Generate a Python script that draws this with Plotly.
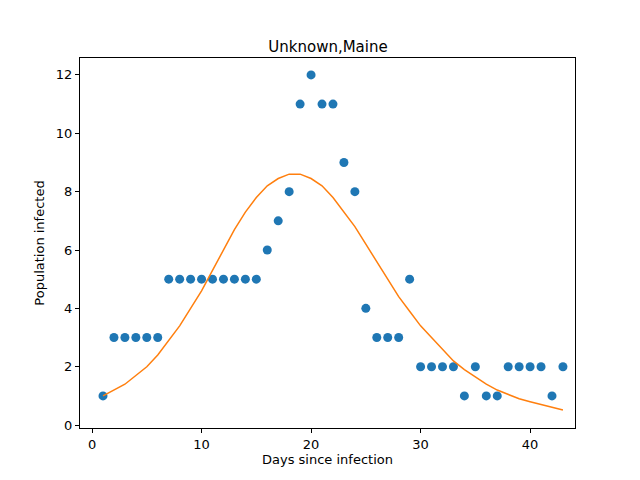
import plotly.graph_objects as go

days = list(range(1, 44))
infected = [1,3,3,3,3,3,5,5,5,5,5,5,5,5,5,6,7,8,11,12,11,11,9,8,4,3,3,3,5,2,2,2,2,1,2,1,1,2,2,2,2,1,2]
fit = [1.0,1.2,1.4,1.7,2.0,2.4,2.9,3.4,4.0,4.6,5.3,6.0,6.7,7.3,7.8,8.2,8.45,8.6,8.6,8.45,8.2,7.8,7.3,6.8,6.2,5.6,5.0,4.4,3.9,3.4,3.0,2.6,2.2,1.9,1.65,1.4,1.2,1.05,0.9,0.8,0.7,0.6,0.52]

fig = go.Figure()
fig.add_trace(go.Scatter(x=days, y=infected, mode="markers",
                         marker=dict(color="#1f77b4", size=9)))
fig.add_trace(go.Scatter(x=days, y=fit, mode="lines",
                         line=dict(color="#ff7f0e", width=1.5)))
ax = dict(showgrid=False, zeroline=False, showline=True, mirror=True,
          linecolor="black", linewidth=1, ticks="outside", ticklen=4,
          tickcolor="black", tickfont=dict(size=13, color="black"))
fig.update_layout(
    width=640, height=480, showlegend=False,
    paper_bgcolor="white", plot_bgcolor="white",
    font=dict(family="DejaVu Sans", color="black"),
    margin=dict(l=72, r=73, t=50, b=60),
    title=dict(text="Unknown,Maine", x=0.5, xanchor="center", y=0.93,
               font=dict(size=15)),
    xaxis=dict(ax, range=[-1.1, 44.1], tickvals=[0,10,20,30,40],
               title=dict(text="Days since infection", font=dict(size=13), standoff=4)),
    yaxis=dict(ax, range=[-0.1, 12.58], tickvals=[0,2,4,6,8,10,12],
               title=dict(text="Population infected", font=dict(size=13), standoff=8)),
)
fig.write_html("out.html")
